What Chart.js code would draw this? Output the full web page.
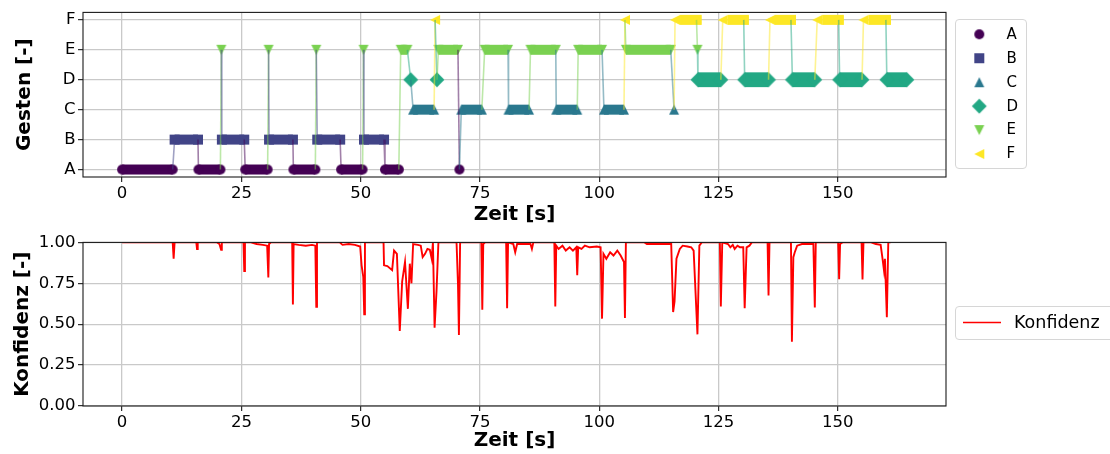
<!DOCTYPE html>
<html>
<head>
<meta charset="utf-8">
<script src="https://cdn.jsdelivr.net/npm/chart.js@4.4.1/dist/chart.umd.min.js"></script>
<style>
  html, body { margin: 0; padding: 0; background: #ffffff; }
  #page { position: relative; width: 1110px; height: 454px; overflow: hidden; }
  #gestures { position: absolute; left: 0; top: 0; }
  #confidence { position: absolute; left: 0; top: 230px; }
</style>
</head>
<body>
<div id="page">
  <canvas id="gestures" width="1110" height="230"></canvas>
  <canvas id="confidence" width="1110" height="224"></canvas>
</div>
<script>
// ---- gesture classes ----
const gestureLabels = ['A', 'B', 'C', 'D', 'E', 'F'];
const gestureColors = ['#440154', '#414487', '#2a788e', '#22a884', '#7ad151', '#fde725'];
const gestureMarkers = ['circle', 'square', 'up', 'diamond', 'down', 'left'];

// ---- recognised gesture runs, in time order (seconds) ----
const runGesture = ['A','B','A','E','B','A','E','B','A','E','B','A','E','B','A','E','D','C','F','D',
                    'E','A','C','E','C','E','C','E','C','F','E','C','F','E','D','F','D','F','D','F',
                    'D','F','D'];
const runStart   = [0, 11.0, 16.0, 20.8, 20.9, 25.8, 30.7, 30.8, 35.9, 40.7, 40.9, 45.9, 50.6, 50.7, 55.1, 58.4, 60.5, 61.0, 65.6, 66.0,
                    66.3, 70.7, 71.1, 76.0, 81.0, 85.6, 91.0, 95.6, 101.0, 105.4, 105.6, 115.7, 115.9, 120.6, 120.7, 125.9, 130.5, 135.8, 140.5, 145.7,
                    150.4, 155.4, 160.3];
const runEnd     = [10.6, 15.9, 20.6, 20.8, 25.6, 30.5, 30.7, 35.8, 40.5, 40.7, 45.7, 50.4, 50.6, 54.9, 58.0, 59.8, 60.5, 65.4, 65.6, 66.0,
                    70.4, 70.7, 75.4, 80.9, 85.3, 90.9, 95.4, 100.6, 105.2, 105.4, 115.0, 115.7, 120.4, 120.6, 125.5, 130.3, 135.5, 140.2, 145.2, 150.2,
                    155.1, 160.1, 164.5];

// ---- classifier confidence over time ----
const confTime  = [0, 10.6, 10.8, 11.0, 15.55, 15.7, 15.85, 19.9, 20.4, 20.75, 20.9, 25.45, 25.6, 25.75, 27.0, 28.2, 29.5, 30.4, 30.65, 30.8,
                   31.2, 35.65, 35.8, 35.95, 37.0, 38.5, 39.8, 40.5, 40.7, 40.85, 45.6, 46.2, 47.5, 48.8, 49.9, 50.2, 50.55, 50.75, 50.9, 54.8,
                   54.9, 55.6, 56.6, 57.0, 57.6, 58.2, 58.7, 59.3, 59.9, 60.3, 60.65, 61.0, 62.0, 62.6, 63.0, 63.5, 64.0, 64.5, 64.9, 65.15,
                   65.5, 65.9, 66.3, 70.1, 70.4, 70.6, 70.85, 75.3, 75.5, 75.7, 76.1, 80.5, 80.7, 80.9, 82.0, 82.4, 82.8, 85.6, 85.9, 86.2,
                   90.6, 90.8, 91.0, 91.5, 92.3, 93.0, 93.8, 94.5, 95.2, 95.4, 95.6, 96.3, 97.0, 98.0, 99.5, 100.3, 100.6, 100.9, 101.5, 102.3,
                   103.0, 103.8, 104.5, 105.2, 105.4, 105.6, 109.5, 110.0, 114.9, 115.1, 115.5, 115.8, 116.2, 116.9, 117.5, 118.5, 119.3, 119.8, 120.6, 121.0,
                   121.5, 125.3, 125.5, 125.8, 127.0, 127.5, 128.0, 128.4, 129.0, 129.5, 130.2, 130.5, 130.9, 131.5, 132.0, 135.3, 135.5, 135.7, 140.2, 140.4,
                   140.7, 141.0, 141.5, 142.5, 144.9, 145.2, 145.4, 150.1, 150.3, 150.5, 151.0, 155.0, 155.2, 155.4, 157.0, 158.0, 159.0, 159.4, 159.7, 159.9,
                   160.3, 160.6, 161.1];
const confValue = [1, 1, 0.90, 1, 1, 0.96, 1, 1, 0.99, 0.955, 1, 1, 0.825, 1, 1, 0.99, 0.985, 0.98, 0.785, 0.99,
                   1, 1, 0.62, 0.99, 0.985, 0.98, 0.985, 0.98, 0.607, 1, 1, 0.985, 0.99, 0.985, 0.975, 0.86, 0.79, 0.56, 1, 1,
                   0.86, 0.855, 0.83, 0.95, 0.93, 0.458, 0.76, 0.88, 0.594, 0.87, 0.75, 0.99, 0.985, 0.98, 0.91, 0.93, 0.96, 0.955, 0.90, 1,
                   0.478, 0.70, 1, 1, 0.75, 0.434, 1, 1, 0.588, 0.99, 1, 1, 0.598, 1, 0.99, 0.94, 0.99, 0.99, 0.96, 1,
                   1, 0.608, 0.98, 0.96, 0.98, 0.95, 0.97, 0.95, 0.97, 0.80, 0.97, 0.96, 0.98, 0.97, 0.975, 0.97, 0.534, 0.93, 0.90, 0.94,
                   0.92, 0.95, 0.92, 0.88, 0.538, 1, 1, 0.99, 0.99, 0.99, 0.574, 0.64, 0.90, 0.96, 0.98, 0.975, 0.97, 0.95, 0.438, 0.98,
                   1, 1, 0.608, 1, 0.99, 0.97, 0.985, 0.96, 0.98, 0.97, 0.97, 0.598, 0.97, 0.98, 1, 1, 0.675, 1, 1, 0.393,
                   0.91, 0.94, 0.98, 0.99, 0.99, 0.602, 1, 1, 0.775, 0.99, 1, 1, 0.773, 1, 1, 0.99, 0.985, 0.90, 0.83, 0.90,
                   0.542, 1, 1];

// ---- axis ticks ----
const timeTicks = [0, 25, 50, 75, 100, 125, 150];
const confTicks = [0, 0.25, 0.5, 0.75, 1];

const FONT = 'DejaVu Sans';

// Marker glyphs (circle, square, triangles, diamond) as small canvases
const markerHalf = { circle: 5, square: 5, up: 5, down: 5, left: 5, diamond: 7.4 };
function makeMarker(kind, color) {
  const S = 20, m = S / 2, h = markerHalf[kind];
  const c = document.createElement('canvas');
  c.width = S; c.height = S;
  const g = c.getContext('2d');
  g.fillStyle = color;
  g.beginPath();
  if (kind === 'circle') g.arc(m, m, h, 0, Math.PI * 2);
  else if (kind === 'square') g.rect(m - h, m - h, 2 * h, 2 * h);
  else if (kind === 'up') { g.moveTo(m, m - h); g.lineTo(m + h, m + h); g.lineTo(m - h, m + h); }
  else if (kind === 'down') { g.moveTo(m - h, m - h); g.lineTo(m + h, m - h); g.lineTo(m, m + h); }
  else if (kind === 'left') { g.moveTo(m - h, m); g.lineTo(m + h, m - h); g.lineTo(m + h, m + h); }
  else if (kind === 'diamond') { g.moveTo(m, m - h); g.lineTo(m + h, m); g.lineTo(m, m + h); g.lineTo(m - h, m); }
  g.closePath();
  g.fill();
  return c;
}
const markerImages = gestureMarkers.map((k, i) => makeMarker(k, gestureColors[i]));

function withAlpha(hex, a) {
  const n = parseInt(hex.slice(1), 16);
  return `rgba(${(n >> 16) & 255},${(n >> 8) & 255},${n & 255},${a})`;
}

// One dataset per gesture: the first and last sample of every run
const gestureDatasets = gestureLabels.map((lab, k) => {
  const pts = [];
  runGesture.forEach((g, i) => {
    if (g !== lab) return;
    pts.push({ x: runStart[i], y: k });
    if (runEnd[i] > runStart[i]) pts.push({ x: runEnd[i], y: k });
  });
  return {
    label: lab,
    data: pts,
    pointStyle: markerImages[k],
    pointRadius: 5,
    backgroundColor: gestureColors[k],
    borderColor: gestureColors[k],
    showLine: false,
    order: 1
  };
});

// Path through the runs in time order; each step takes the colour of the gesture it goes to
const pathPoints = [];
const pathClass = [];
runGesture.forEach((g, i) => {
  const k = gestureLabels.indexOf(g);
  pathPoints.push({ x: runStart[i], y: k }); pathClass.push(k);
  if (runEnd[i] > runStart[i]) { pathPoints.push({ x: runEnd[i], y: k }); pathClass.push(k); }
});
const pathDataset = {
  label: 'Verlauf',
  data: pathPoints,
  showLine: true,
  pointRadius: 0,
  borderWidth: 1.6,
  borderColor: withAlpha(gestureColors[0], 0.5),
  segment: { borderColor: ctx => withAlpha(gestureColors[pathClass[ctx.p1DataIndex]], 0.5) },
  order: 0
};

// Filled body of each run between its first and last marker
const runBodies = {
  id: 'runBodies',
  beforeDatasetsDraw(chart) {
    const { ctx, chartArea: a } = chart;
    const xs = chart.scales.x, ys = chart.scales.y;
    ctx.save();
    ctx.beginPath(); ctx.rect(a.left, a.top, a.width, a.height); ctx.clip();
    runGesture.forEach((g, i) => {
      if (runEnd[i] <= runStart[i]) return;
      const k = gestureLabels.indexOf(g);
      const kind = gestureMarkers[k], h = markerHalf[kind];
      const shift = kind === 'left' ? h : 0;
      const x1 = xs.getPixelForValue(runStart[i]) + shift;
      const x2 = xs.getPixelForValue(runEnd[i]) + shift;
      const yc = ys.getPixelForValue(k);
      ctx.fillStyle = gestureColors[k];
      ctx.fillRect(x1, yc - h, x2 - x1, 2 * h);
    });
    ctx.restore();
  }
};

// Box around the plotting area
const frame = {
  id: 'frame',
  afterDatasetsDraw(chart) {
    const { ctx, chartArea: a } = chart;
    ctx.save();
    ctx.strokeStyle = '#1a1a1a';
    ctx.lineWidth = 1.1;
    ctx.strokeRect(a.left, a.top, a.right - a.left, a.bottom - a.top);
    ctx.restore();
  }
};

function roundRectPath(ctx, x, y, w, h, r) {
  ctx.beginPath();
  ctx.moveTo(x + r, y);
  ctx.lineTo(x + w - r, y); ctx.quadraticCurveTo(x + w, y, x + w, y + r);
  ctx.lineTo(x + w, y + h - r); ctx.quadraticCurveTo(x + w, y + h, x + w - r, y + h);
  ctx.lineTo(x + r, y + h); ctx.quadraticCurveTo(x, y + h, x, y + h - r);
  ctx.lineTo(x, y + r); ctx.quadraticCurveTo(x, y, x + r, y);
  ctx.closePath();
}

// Legend of the gesture markers, right of the plot
const gestureLegend = {
  id: 'gestureLegend',
  afterDraw(chart) {
    const ctx = chart.ctx;
    const items = chart.data.datasets.filter(ds => gestureLabels.includes(ds.label));
    ctx.save();
    roundRectPath(ctx, 955.5, 19.5, 71, 149, 3.5);
    ctx.fillStyle = 'rgba(255,255,255,0.8)'; ctx.fill();
    ctx.strokeStyle = '#d6d6d6'; ctx.lineWidth = 1; ctx.stroke();
    ctx.font = `15px "${FONT}"`;
    ctx.fillStyle = '#000';
    ctx.textBaseline = 'middle';
    ctx.textAlign = 'left';
    items.forEach((ds, k) => {
      const y = 34.3 + k * 23.95;
      const img = ds.pointStyle;
      ctx.drawImage(img, 979.3 - img.width / 2, y - img.height / 2);
      ctx.fillText(ds.label, 1006.5, y + 0.5);
    });
    ctx.restore();
  }
};

// Legend of the confidence line
const confLegend = {
  id: 'confLegend',
  afterDraw(chart) {
    const ctx = chart.ctx;
    const ds = chart.data.datasets[0];
    ctx.save();
    roundRectPath(ctx, 955.5, 76.5, 170, 33, 3.5);
    ctx.fillStyle = 'rgba(255,255,255,0.8)'; ctx.fill();
    ctx.strokeStyle = '#d6d6d6'; ctx.lineWidth = 1; ctx.stroke();
    ctx.strokeStyle = ds.borderColor; ctx.lineWidth = 1.6;
    ctx.beginPath(); ctx.moveTo(963, 92.5); ctx.lineTo(1001, 92.5); ctx.stroke();
    ctx.font = `17.5px "${FONT}"`;
    ctx.fillStyle = '#000';
    ctx.textBaseline = 'middle';
    ctx.fillText(ds.label, 1014, 93);
    ctx.restore();
  }
};

const tickFont = { family: FONT, size: 16.5 };
const titleFont = { family: FONT, size: 20, weight: 'bold' };
const gridStyle = { color: '#c9c9c9', lineWidth: 1.3, tickColor: '#1a1a1a', tickLength: 5, tickWidth: 1.1 };

function timeAxis(axisHeight, titleBottomPad) {
  return {
    type: 'linear', min: -8.2, max: 172.7,
    afterBuildTicks: s => { s.ticks = timeTicks.map(v => ({ value: v })); },
    afterFit: s => { s.height = axisHeight; },
    border: { display: false },
    grid: gridStyle,
    ticks: { font: tickFont, color: '#000', padding: 2, maxRotation: 0, autoSkip: false, callback: v => String(v) },
    title: { display: true, text: 'Zeit [s]', font: titleFont, color: '#000', padding: { top: 0, bottom: titleBottomPad } }
  };
}

new Chart(document.getElementById('gestures'), {
  type: 'scatter',
  data: { datasets: [pathDataset, ...gestureDatasets] },
  options: {
    responsive: false, animation: false, events: [],
    layout: { padding: { left: 0, right: 164, top: 11, bottom: 0 } },
    plugins: { legend: { display: false }, tooltip: { enabled: false } },
    scales: {
      x: timeAxis(53, 3),
      y: {
        type: 'linear', min: -0.25, max: 5.25,
        afterBuildTicks: s => { s.ticks = gestureLabels.map((_, i) => ({ value: i })); },
        afterFit: s => { s.width = 83; },
        border: { display: false },
        grid: gridStyle,
        ticks: { font: tickFont, color: '#000', padding: 2.5, autoSkip: false, callback: v => gestureLabels[v] },
        title: { display: true, text: 'Gesten [-]', font: titleFont, color: '#000', padding: { top: 12.5, bottom: 0 } }
      }
    }
  },
  plugins: [runBodies, frame, gestureLegend]
});

new Chart(document.getElementById('confidence'), {
  type: 'scatter',
  data: {
    datasets: [{
      label: 'Konfidenz',
      data: confTime.map((t, i) => ({ x: t, y: confValue[i] })),
      showLine: true,
      pointRadius: 0,
      borderColor: '#ff0000',
      borderWidth: 1.9,
      clip: 0
    }]
  },
  options: {
    responsive: false, animation: false, events: [],
    layout: { padding: { left: 0, right: 164, top: 10, bottom: 0 } },
    plugins: { legend: { display: false }, tooltip: { enabled: false } },
    scales: {
      x: timeAxis(48, 1),
      y: {
        type: 'linear', min: 0, max: 1,
        afterBuildTicks: s => { s.ticks = confTicks.map(v => ({ value: v })); },
        afterFit: s => { s.width = 83; },
        border: { display: false },
        grid: gridStyle,
        ticks: { font: tickFont, color: '#000', padding: 2.5, autoSkip: false, callback: v => v.toFixed(2) },
        title: { display: true, text: 'Konfidenz [-]', font: titleFont, color: '#000', padding: { top: 10.5, bottom: 0 } }
      }
    }
  },
  plugins: [frame, confLegend]
});
</script>
</body>
</html>
